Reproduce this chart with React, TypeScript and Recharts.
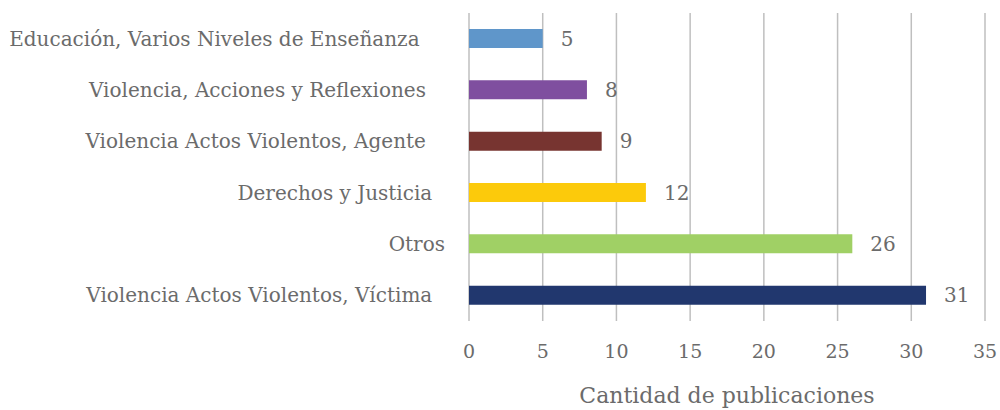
import React from "react";
import { BarChart, Bar, XAxis, YAxis, CartesianGrid, LabelList, Cell } from "recharts";

const categories = [
  "Educación, Varios Niveles de Enseñanza\u00A0\u00A0\u00A0\u00A0",
  "Violencia, Acciones y Reflexiones\u00A0\u00A0\u00A0",
  "Violencia Actos Violentos, Agente\u00A0\u00A0\u00A0",
  "Derechos y Justicia\u00A0\u00A0",
  "Otros",
  "Violencia Actos Violentos, Víctima\u00A0\u00A0",
];
const values = [5, 8, 9, 12, 26, 31];
const colors = ["#5F96CA", "#7F4F9F", "#773430", "#FCCA0B", "#A0D065", "#21376E"];
const xTicks = [0, 5, 10, 15, 20, 25, 30, 35];
const xTitle = "Cantidad de publicaciones";

const data = categories.map((c, i) => ({ name: c, value: values[i] }));

const FONT = "'DejaVu Serif', serif";
const GRAY = "#6B6B6B";

export default function App() {
  return (
    <div style={{ position: "absolute", left: 0, top: 0, width: 1000, height: 410, background: "#fff" }}>
      <BarChart
        width={1000}
        height={410}
        data={data}
        layout="vertical"
        margin={{ top: 13, right: 15, bottom: 0, left: 0 }}
        barSize={19}
      >
        <CartesianGrid horizontal={false} vertical stroke="#BFBFBF" strokeWidth={1.5} />
        <XAxis
          type="number"
          domain={[0, 35]}
          ticks={xTicks}
          axisLine={false}
          tickLine={false}
          tickMargin={18}
          height={89}
          tick={{ fill: GRAY, fontSize: 19, fontFamily: FONT }}
          label={{ value: xTitle, position: "insideBottom", offset: 7, fill: GRAY, fontSize: 22, fontFamily: FONT }}
        />
        <YAxis
          type="category"
          dataKey="name"
          width={469}
          axisLine={false}
          tickLine={false}
          tickMargin={18}
          interval={0}
          tick={{ fill: GRAY, fontSize: 20, fontFamily: FONT }}
        />
        <Bar dataKey="value" isAnimationActive={false}>
          {data.map((d, i) => (
            <Cell key={d.name} fill={colors[i]} />
          ))}
          <LabelList dataKey="value" position="right" offset={18} fill={GRAY} fontSize={20} fontFamily={FONT} />
        </Bar>
      </BarChart>
    </div>
  );
}
